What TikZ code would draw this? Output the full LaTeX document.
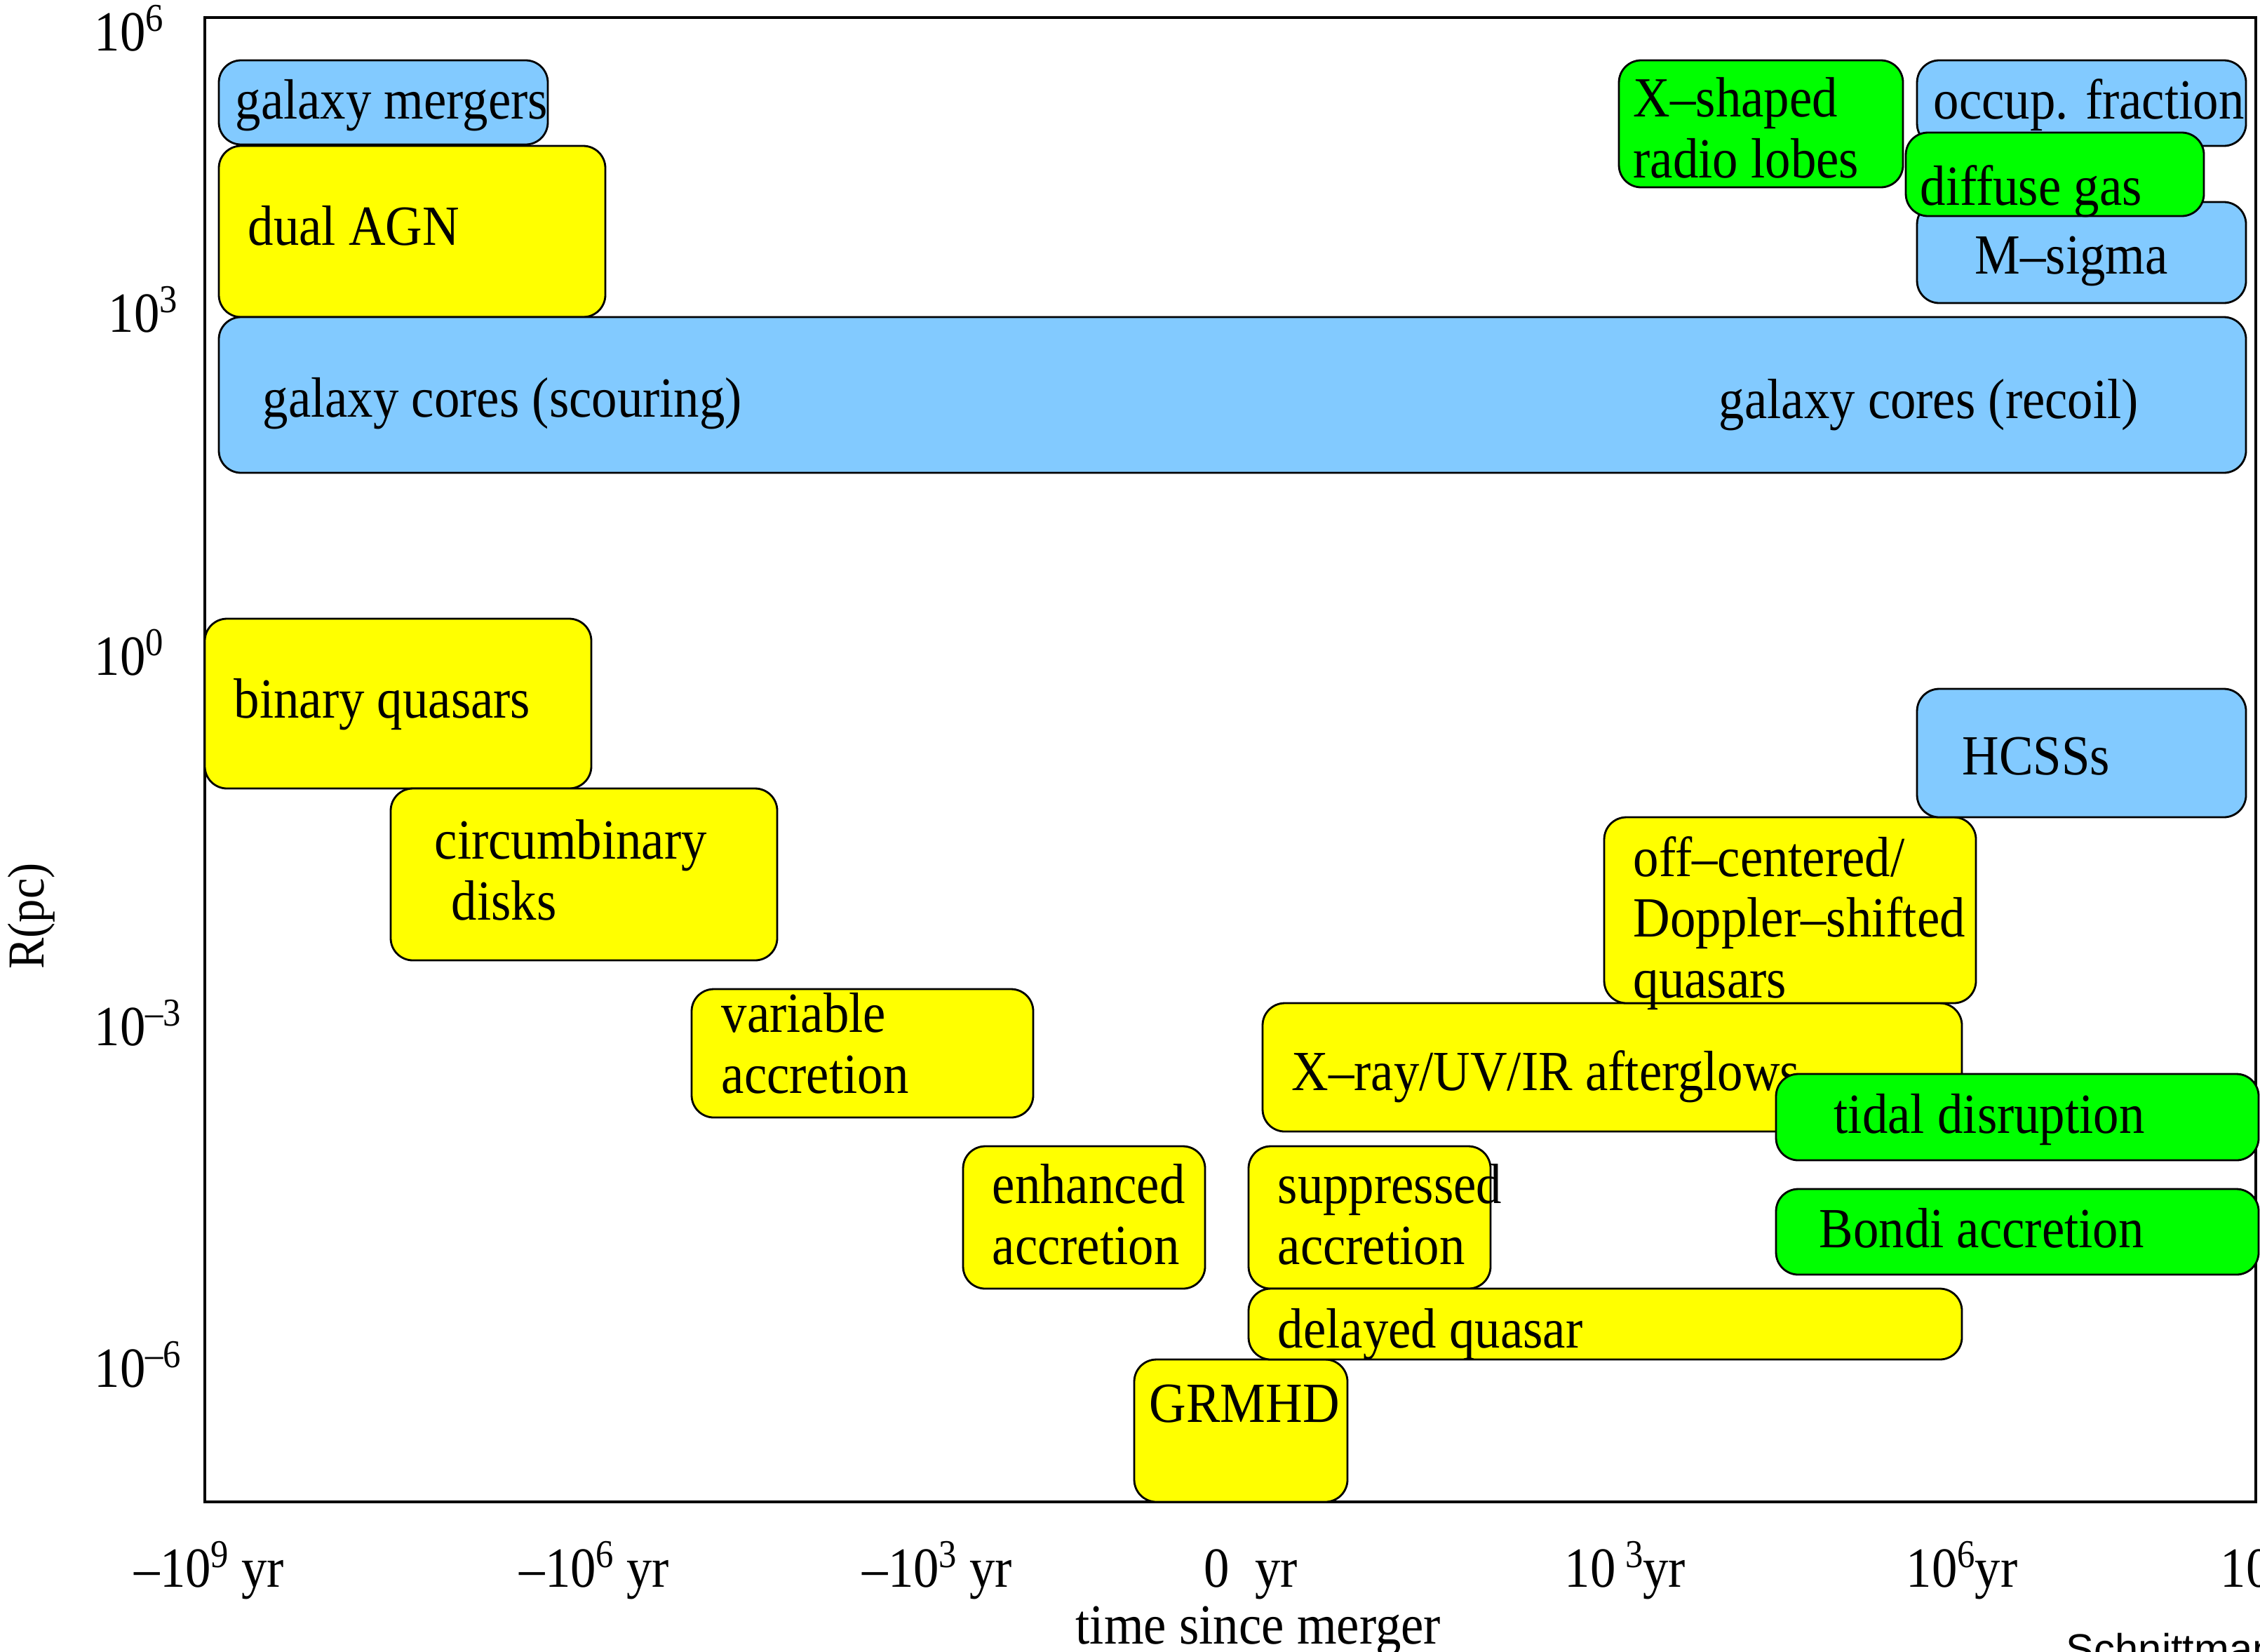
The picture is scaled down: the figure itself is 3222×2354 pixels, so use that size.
\documentclass[tikz,border=0pt]{standalone}
\usepackage{fontspec}
\setmainfont{Liberation Serif}[FakeStretch=0.9]
\newfontfamily\creditfont{Liberation Sans}
\definecolor{gcblue}{RGB}{130,202,255}
\definecolor{gcyellow}{RGB}{255,255,0}
\definecolor{gcgreen}{RGB}{0,255,0}
\newcommand{\pw}[1]{\raisebox{0.34em}{\fontsize{16}{16}\selectfont#1}}

\begin{document}
\begin{tikzpicture}[x=0.01cm, y=-0.01cm,
    region/.style={draw=black, line width=0.8pt, rounded corners=9pt},
    tag/.style={anchor=base west, inner sep=0pt, align=left, font=\fontsize{23}{24.5}\selectfont},
    axislbl/.style={anchor=base west, inner sep=0pt, font=\fontsize{23}{24.5}\selectfont}]

    \useasboundingbox (0,0) rectangle (3222,2354);

    % frame
    \draw[line width=1pt] (292,25) rectangle (3216,2141);

    % large scales
    \draw[region, fill=gcblue] (312,86) rectangle (781,206);
    \node[tag] (mergers) at (335,169) {galaxy mergers};
    \draw[region, fill=gcyellow] (312,208) rectangle (863,452);
    \node[tag] (dualagn) at (353,349) {dual AGN};
    \draw[region, fill=gcblue] (312,452) rectangle (3202,674);
    \node[tag] (scour) at (374,594) {galaxy cores (scouring)};
    \node[tag] (recoil) at (2450,596) {galaxy cores (recoil)};

    \draw[region, fill=gcgreen] (2308,86) rectangle (2713,267);
    \node[tag] (xlobes) at (2328,253) {X--shaped\\radio lobes};
    \draw[region, fill=gcblue] (2733,86) rectangle (3202,208);
    \node[tag] (occup) at (2756,169) {occup. fraction};
    \draw[region, fill=gcblue] (2733,288) rectangle (3202,432);
    \node[tag] (msigma) at (2815,390) {M--sigma};
    \draw[region, fill=gcgreen] (2717,189) rectangle (3142,308);
    \node[tag] (diffgas) at (2737,292) {diffuse gas};

    % before merger
    \draw[region, fill=gcyellow] (292,882) rectangle (843,1124);
    \node[tag] (binary) at (333,1023) {binary quasars};
    \draw[region, fill=gcyellow] (557,1124) rectangle (1108,1369);
    \node[tag] (circum) at (619,1311) {circumbinary\\\hspace*{0.3em}disks};
    \draw[region, fill=gcyellow] (986,1410) rectangle (1473,1593);
    \node[tag] (variable) at (1028,1558) {variable\\accretion};
    \draw[region, fill=gcyellow] (1373,1634) rectangle (1718,1837);
    \node[tag] (enhanced) at (1414,1802) {enhanced\\accretion};
    \draw[region, fill=gcyellow] (1617,1938) rectangle (1921,2141);
    \node[tag] (grmhd) at (1638,2027) {GRMHD};

    % after merger
    \draw[region, fill=gcyellow] (1800,1430) rectangle (2797,1613);
    \node[tag] (afterglow) at (1841,1554) {X--ray/UV/IR afterglows};
    \draw[region, fill=gcyellow] (2287,1165) rectangle (2817,1430);
    \node[tag] (offcent) at (2328,1422) {off--centered/\\Doppler--shifted\\quasars};
    \draw[region, fill=gcyellow] (1780,1634) rectangle (2125,1837);
    \node[tag] (suppressed) at (1821,1802) {suppressed\\accretion};
    \draw[region, fill=gcyellow] (1780,1837) rectangle (2797,1938);
    \node[tag] (delayed) at (1821,1921) {delayed quasar};
    \draw[region, fill=gcblue] (2733,982) rectangle (3202,1165);
    \node[tag] (hcss) at (2797,1104) {HCSSs};
    \draw[region, fill=gcgreen] (2532,1531) rectangle (3220,1654);
    \node[tag] (tidal) at (2614,1615) {tidal disruption};
    \draw[region, fill=gcgreen] (2532,1695) rectangle (3220,1817);
    \node[tag] (bondi) at (2593,1778) {Bondi accretion};

    % axes
    \node[axislbl] (r6) at (134,72) {10\pw{6}};
    \node[axislbl] (r3) at (154,473) {10\pw{3}};
    \node[axislbl] (r0) at (134,962) {10\pw{0}};
    \node[axislbl] (rm3) at (134,1490) {10\pw{--3}};
    \node[axislbl] (rm6) at (134,1977) {10\pw{--6}};
    \node[rotate=90, inner sep=0pt, font=\fontsize{21}{21}\selectfont] (rpc) at (45,1306) {R(pc)};

    \node[axislbl] (tm9) at (191,2262) {--10\pw{9} yr};
    \node[axislbl] (tm6) at (740,2262) {--10\pw{6} yr};
    \node[axislbl] (tm3) at (1229,2262) {--10\pw{3} yr};
    \node[axislbl] (t0) at (1716,2262) {0\ \ yr};
    \node[axislbl] (tp3) at (2230,2262) {10\,\pw{3}yr};
    \node[axislbl] (tp6) at (2717,2262) {10\pw{6}yr};
    \node[axislbl] (tp9) at (3165,2262) {10\pw{9}yr};
    \node[axislbl] (tlabel) at (1533,2343) {time since merger};

    \node[anchor=base west, inner sep=0pt, font=\creditfont\fontsize{17}{17}\selectfont] (credit) at (2945,2371) {Schnittman};
\end{tikzpicture}
\end{document}
